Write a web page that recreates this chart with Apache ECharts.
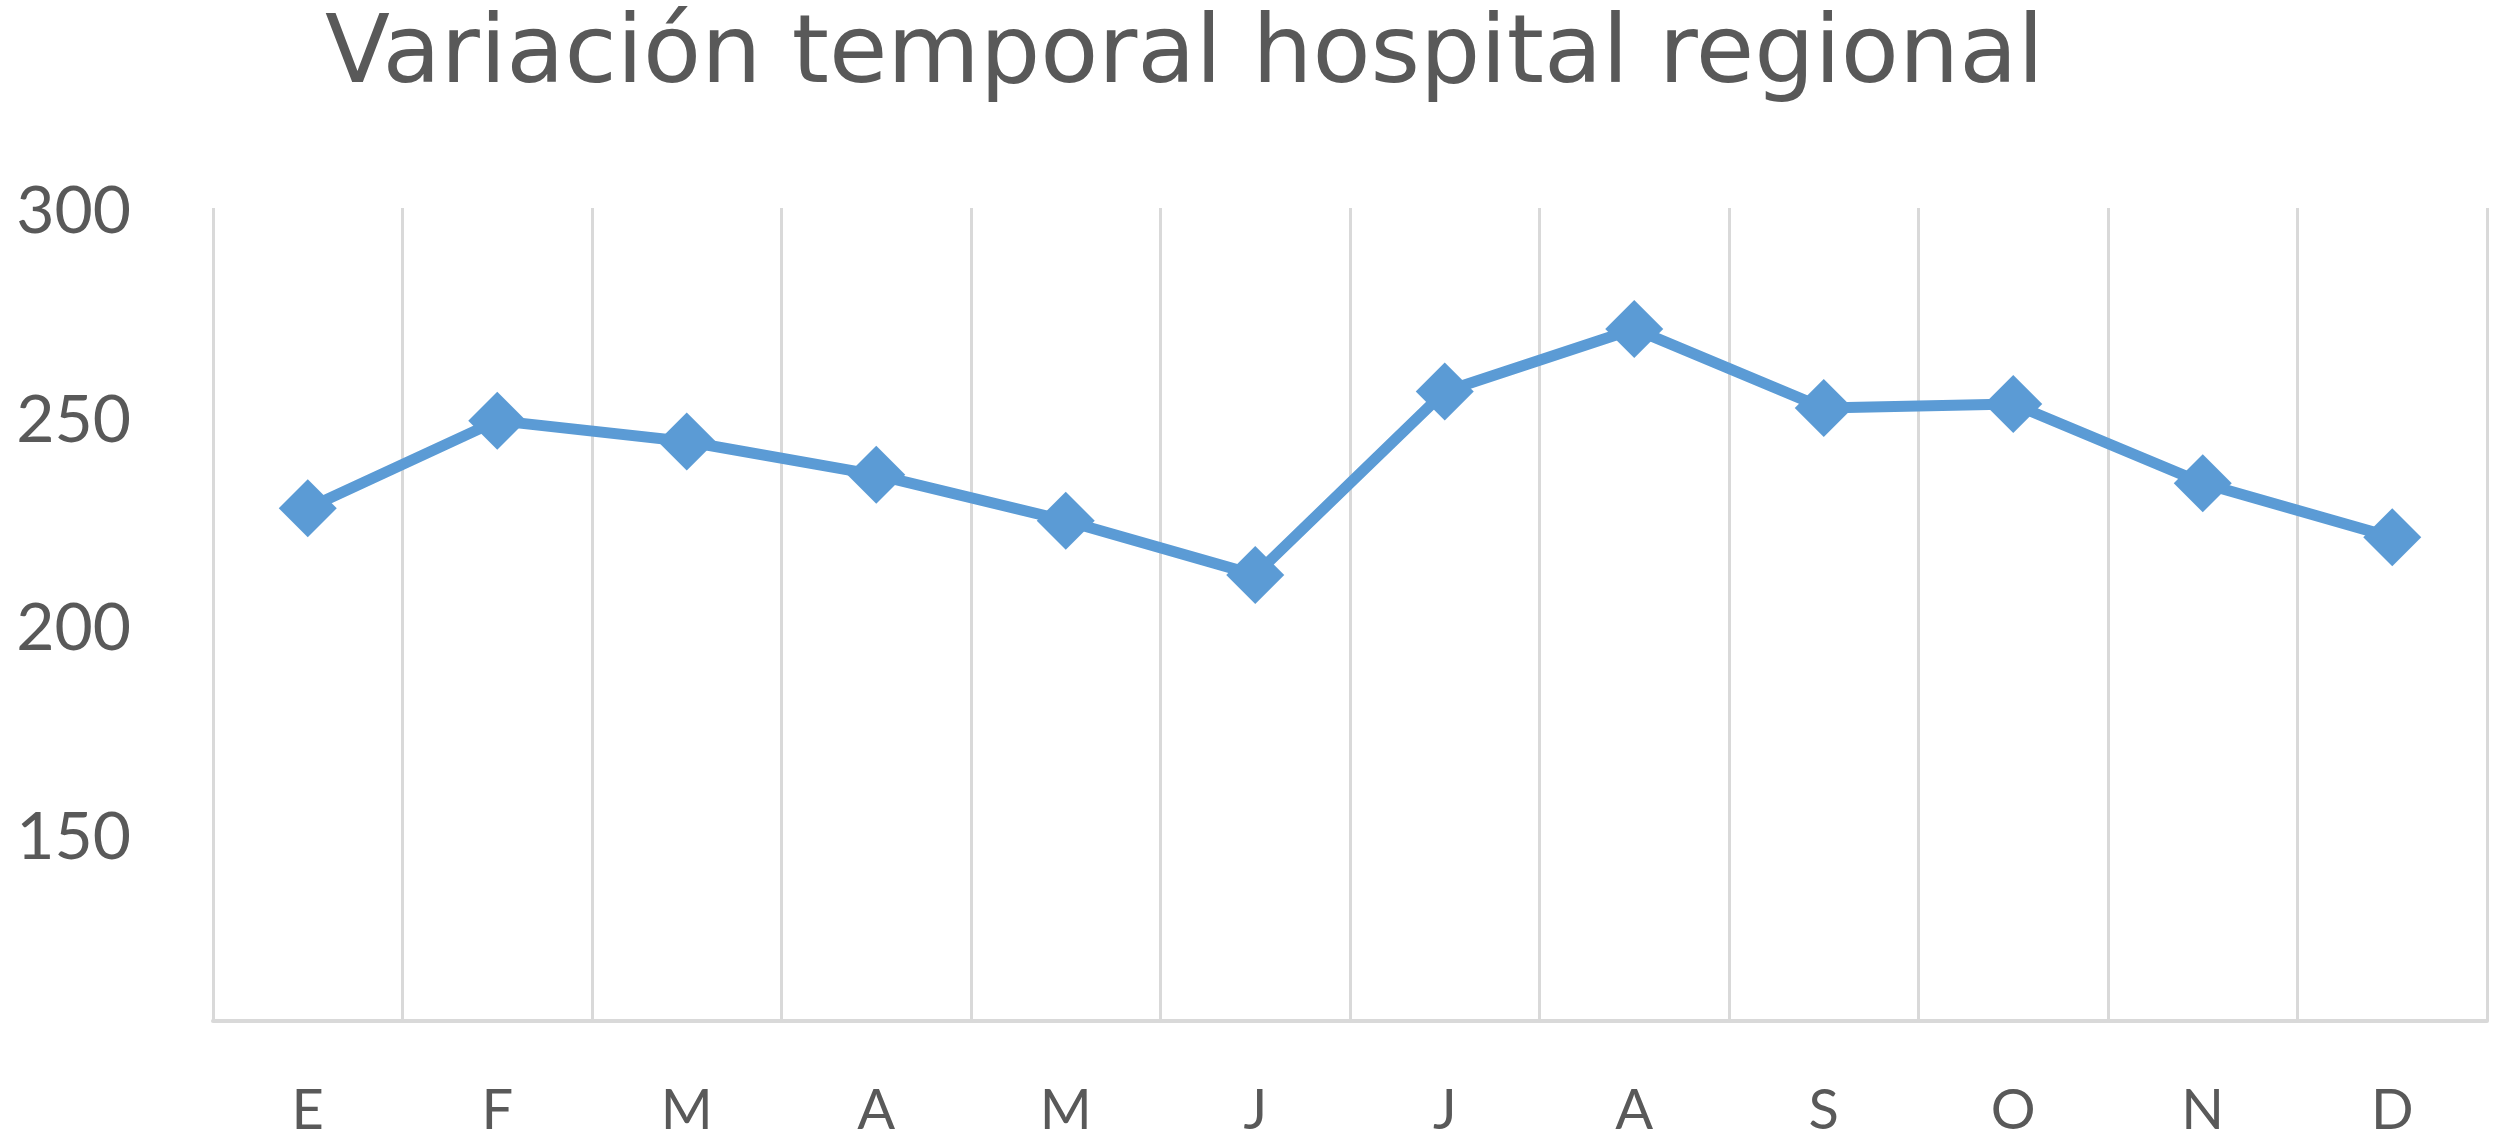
<!DOCTYPE html>
<html>
<head>
<meta charset="utf-8">
<script src="https://cdn.jsdelivr.net/npm/echarts@6/dist/echarts.min.js"></script>
<style>
	html, body { margin: 0; padding: 0; background: #fff; }
	#chart { width: 2508px; height: 1140px; }
</style>
</head>
<body>
<div id="chart"></div>
<script>
// data
const months = ["E", "F", "M", "A", "M", "J", "J", "A", "S", "O", "N", "D"];
const values = [229, 250, 245, 237, 226, 213, 257, 272, 253, 254, 235, 222];
const yTicks = [150, 200, 250, 300];

let chart = echarts.init(document.getElementById("chart"));
chart.setOption({
	backgroundColor: "#ffffff",
	animation: false,
	title: {
		text: "Variación temporal hospital regional",
		left: 320,
		top: 5,
		textStyle: {
			fontFamily: "DejaVu Sans",
			fontWeight: "normal",
			fontSize: 95,
			color: "#595959",
		},
	},
	grid: {
		left: 213,
		right: 21,
		top: 208,
		bottom: 119,
	},
	xAxis: {
		type: "category",
		data: months,
		boundaryGap: true,
		axisLine: {
			show: true,
			lineStyle: { color: "#d9d9d9", width: 4 },
		},
		axisTick: { show: false },
		axisLabel: {
			margin: 62,
			fontFamily: "Lato",
			fontSize: 56,
			color: "#595959",
		},
		splitLine: {
			show: true,
			lineStyle: { color: "#d9d9d9", width: 3 },
		},
	},
	yAxis: {
		type: "value",
		min: 106,
		max: 301,
		axisLine: { show: false },
		axisTick: { show: false },
		splitLine: { show: false },
		axisLabel: {
			customValues: yTicks,
			margin: 82,
			fontFamily: "Lato",
			fontSize: 66,
			color: "#595959",
		},
	},
	series: [
		{
			type: "line",
			data: values,
			symbol: "diamond",
			symbolSize: 58,
			lineStyle: { color: "#5b9bd5", width: 11 },
			itemStyle: { color: "#5b9bd5" },
		},
	],
});
</script>
</body>
</html>
